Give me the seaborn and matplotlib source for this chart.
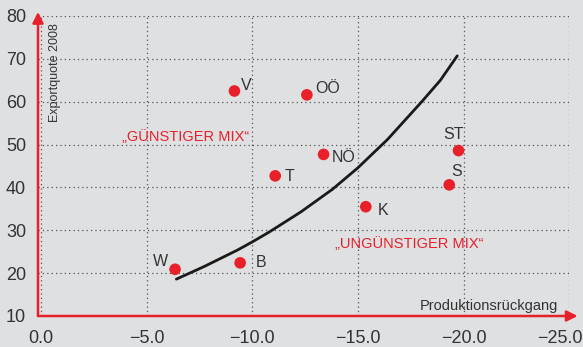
import numpy as np
import pandas as pd
import matplotlib
matplotlib.use("Agg")
import matplotlib.pyplot as plt
import matplotlib.transforms as mtransforms
import seaborn as sns

# ================================
#  Data
# ================================
regions = ["W", "B", "V", "OÖ", "NÖ", "T", "K", "ST", "S"]
prod_decline = [-6.34, -9.42, -9.15, -12.58, -13.37, -11.08, -15.37, -19.76, -19.32]
export_quote = [20.9, 22.4, 62.5, 61.6, 47.7, 42.7, 35.5, 48.6, 40.6]

# trend curve, points
trend_x = [-6.4, -7.7, -9.3, -10.0, -10.8, -12.3, -13.8, -15.0, -16.4, -18.0, -18.9, -19.7]
trend_y = [18.6, 21.5, 25.4, 27.3, 29.6, 34.3, 39.6, 44.6, 51.2, 59.9, 65.0, 70.7]

x_ticks = [0, -5, -10, -15, -20, -25]
y_ticks = [10, 20, 30, 40, 50, 60, 70, 80]

# label offsets in points (dx, dy, ha)
label_pos = {
    "W": (-10.8, 5.5, "center"), "B": (11.5, 0, "left"), "V": (5, 4.3, "left"),
    "OÖ": (6, 4.8, "left"), "NÖ": (6, -2.4, "left"), "T": (6.7, -0.5, "left"),
    "K": (8.4, -2.4, "left"), "ST": (-3.6, 11.3, "center"), "S": (5.5, 9.9, "center"),
}

RED = "#e8202a"
BG = "#dfe0e2"
TXT = "#333333"

sns.set_style("white", {"axes.facecolor": BG, "figure.facecolor": BG})
plt.rcParams["font.family"] = ["Liberation Sans", "DejaVu Sans"]

df = pd.DataFrame({"region": regions, "x": prod_decline, "y": export_quote})
trend = pd.DataFrame({"x": trend_x, "y": trend_y})

fig = plt.figure(figsize=(5.83, 3.47), dpi=100)
ax = fig.add_axes([38 / 583, 31 / 347, 531.2 / 583, 300 / 347])

sns.lineplot(data=trend, x="x", y="y", sort=False, color="#1a1a1a", lw=2.0, ax=ax)
sns.scatterplot(data=df, x="x", y="y", color=RED, s=70, edgecolor="none", ax=ax, zorder=3)

for r, xv, yv in zip(regions, prod_decline, export_quote):
    dx, dy, ha = label_pos[r]
    ax.annotate(r, (xv, yv), xytext=(dx, dy), textcoords="offset points",
                ha=ha, va="center", fontsize=11.5, color=TXT)

ax.set_xlim(0.15, -25)
ax.set_ylim(10, 80)
ax.set_xticks(x_ticks)
ax.set_xticklabels([f"{v:.1f}".replace("-", "\u2212") for v in x_ticks])
ax.set_yticks(y_ticks)
ax.tick_params(length=0, labelsize=13, labelcolor=TXT, pad=8.5)
ax.tick_params(axis="x", pad=10)
# last x label pulled in a bit so it stays on the canvas
last = ax.get_xticklabels()[-1]
last.set_transform(last.get_transform() + mtransforms.ScaledTranslation(-0.09, 0, fig.dpi_scale_trans))
ax.grid(True, linestyle=(0, (1, 2.5)), color="#555555", lw=0.9)
for s in ax.spines.values():
    s.set_visible(False)
ax.set_xlabel("")
ax.set_ylabel("")

# red axis arrows
arrow = dict(arrowstyle="-|>", color=RED, lw=1.8, mutation_scale=16, shrinkA=0, shrinkB=0)
ax.annotate("", xy=(-25.4, 10), xytext=(0.15, 10), arrowprops=arrow, annotation_clip=False)
ax.annotate("", xy=(0.15, 80.95), xytext=(0.15, 10), arrowprops=arrow, annotation_clip=False)

ax.text(-0.66, 78.4, "Exportquote 2008", rotation=90, ha="center", va="top",
        fontsize=9, color=TXT)
ax.text(-24.49, 11.4, "Produktionsrückgang", ha="right", va="baseline",
        fontsize=10.5, color=TXT)

ax.text(-6.84, 50.8, "\u201eGÜNSTIGER MIX\u201c", ha="center", va="baseline",
        fontsize=10.5, color=RED)
ax.text(-17.42, 25.8, "\u201eUNGÜNSTIGER MIX\u201c", ha="center", va="baseline",
        fontsize=10.5, color=RED)

fig.savefig("out.png", dpi=100, facecolor=BG)
